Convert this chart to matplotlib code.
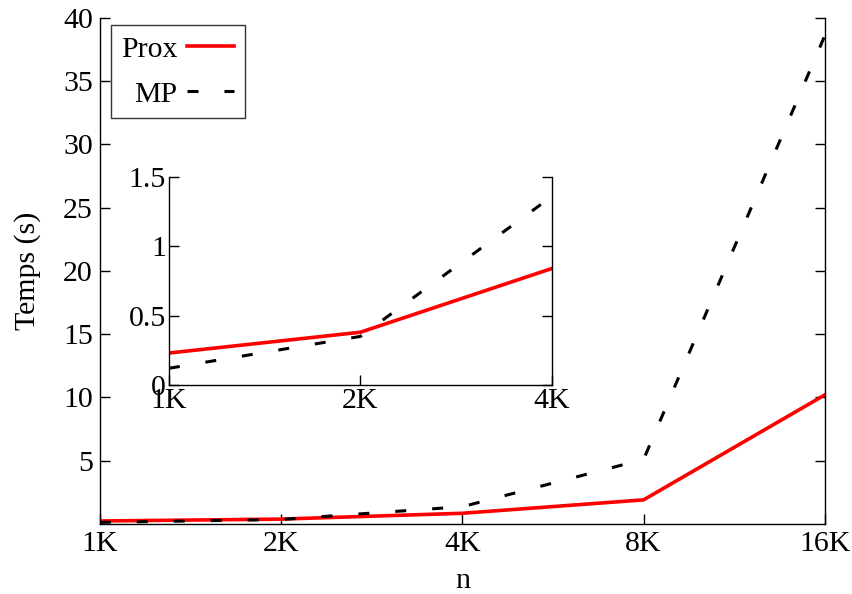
import matplotlib
matplotlib.use("Agg")
import matplotlib.pyplot as plt

n_values = [1, 2, 4, 8, 16]
n_labels = ['1K', '2K', '4K', '8K', '16K']
prox_times = [0.23, 0.38, 0.84, 1.9, 10.2]
mp_times = [0.12, 0.35, 1.36, 5.1, 38.6]

inset_n = n_values[:3]
inset_labels = n_labels[:3]

plt.rcParams['font.family'] = ['Liberation Serif', 'DejaVu Serif']
plt.rcParams['font.size'] = 21.5

mp_dash = (0, (3.6, 8.5))


def style_axes(ax):
    ax.spines['top'].set_visible(False)
    for s in ['left', 'right', 'bottom']:
        ax.spines[s].set_linewidth(1.0)
    ax.tick_params(direction='in', length=7, width=1.0, right=True, top=False, pad=5)


fig = plt.figure(figsize=(8.53, 5.94), dpi=100)
ax = fig.add_axes([0.117, 0.118, 0.850, 0.852])
ax.plot(n_values, prox_times, color='#ff0000', lw=2.6, label='Prox')
ax.plot(n_values, mp_times, color='black', lw=2.2, linestyle=mp_dash, label='MP')
ax.set_xscale('log', base=2)
ax.set_xlim(1, 16)
ax.set_xticks(n_values)
ax.set_xticklabels(n_labels)
ax.minorticks_off()
ax.set_ylim(0, 40)
ax.set_yticks([5, 10, 15, 20, 25, 30, 35, 40])
ax.set_xlabel('n', labelpad=8)
ax.set_ylabel('Temps (s)', labelpad=16)
style_axes(ax)
leg = ax.legend(loc='upper left', markerfirst=False, frameon=True, fancybox=False,
                edgecolor='black', borderaxespad=0.0, handlelength=1.6,
                handletextpad=0.3, labelspacing=0.6, borderpad=0.35,
                bbox_to_anchor=(0.015, 0.985))
leg.get_frame().set_linewidth(1.0)
for t in leg.get_texts():
    t.set_ha('right')

axin = fig.add_axes([0.198, 0.352, 0.449, 0.350])
axin.plot(inset_n, prox_times[:3], color='#ff0000', lw=2.6)
axin.plot(inset_n, mp_times[:3], color='black', lw=2.2, linestyle=mp_dash)
axin.set_xscale('log', base=2)
axin.set_xlim(1, 4)
axin.set_xticks(inset_n)
axin.set_xticklabels(inset_labels)
axin.minorticks_off()
axin.set_ylim(0, 1.5)
axin.set_yticks([0, 0.5, 1, 1.5])
axin.set_yticklabels(['0', '0.5', '1', '1.5'])
style_axes(axin)
axin.tick_params(pad=2)

fig.savefig('out.png', dpi=100)
